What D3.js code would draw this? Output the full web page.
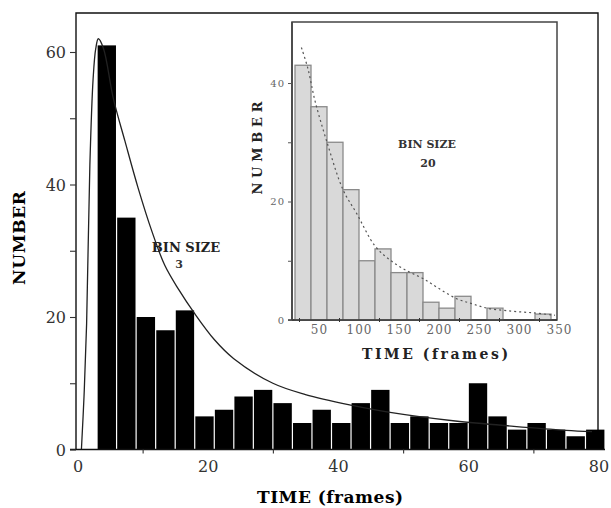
<!DOCTYPE html>
<html>
<head>
<meta charset="utf-8">
<script src="https://cdn.jsdelivr.net/npm/d3@7"></script>
<style>
  body { margin: 0; background: #fff; }
  text { font-family: "DejaVu Serif", serif; }
</style>
</head>
<body>
<div id="chart"></div>
<script>
// main histogram, bin size 3 (frames)
var mainBinStarts = [3, 6, 9, 12, 15, 18, 21, 24, 27, 30, 33, 36, 39, 42, 45, 48, 51, 54, 57, 60, 63, 66, 69, 72, 75, 78];
var mainCounts = [61, 35, 20, 18, 21, 5, 6, 8, 9, 7, 4, 6, 4, 7, 9, 4, 5, 4, 4, 10, 5, 3, 4, 3, 2, 3];
var mainBinSize = 3;

// fitted curve
var mainFitT = [0.6, 1.0, 1.4, 1.9, 2.4, 2.8, 3.2, 4.0, 5.5, 7.3, 9.3, 11.4, 13.4, 15.5, 18, 21, 24, 30, 35, 42, 48, 58, 67, 75, 79];
var mainFitN = [0, 8, 19, 43, 56, 60.5, 62, 60.5, 53, 46.5, 39.5, 33, 27.8, 24.2, 20.5, 16.6, 13.7, 10, 8.3, 6.7, 5.6, 4.3, 3.5, 2.9, 2.7];

var mainXTickLabels = [0, 20, 40, 60, 80];
var mainXMinor = [10, 30, 50, 70];
var mainYTickLabels = [0, 20, 40, 60];
var mainYMinor = [10, 30, 50];

// inset histogram, bin size 20
var insetBinStarts = [20, 40, 60, 80, 100, 120, 140, 160, 180, 200, 220, 240, 260, 280, 300, 320];
var insetCounts = [43, 36, 30, 22, 10, 12, 8, 8, 3, 2, 4, 0, 2, 0, 0, 1];
var insetBinSize = 20;

var insetFitT = [28, 36, 45, 60, 80, 97, 120, 140, 160, 180, 200, 222, 240, 260, 290, 318, 345];
var insetFitN = [46, 42.5, 37, 30, 22, 18, 12.5, 10, 8.3, 7, 5.3, 3.6, 2.8, 2, 1.5, 1.2, 0.8];

var insetXTickLabels = [50, 100, 150, 200, 250, 300, 350];
var insetXMinor = [25, 75, 125, 175, 225, 275, 325];
var insetYTickLabels = [0, 20, 40];
var insetYMinor = [10, 30];

var width = 611, height = 508;

var svg = d3.select('#chart')
	.append('svg')
	.attr('width', width)
	.attr('height', height);

// Scales for the main chart
var x = d3.scaleLinear().domain([0, 80]).range([77.5, 598.5]);
var y = d3.scaleLinear().domain([0, 66]).range([449.5, 12.25]);

// Frame (left, top, right)
svg.append('path')
	.attr('d', 'M76,449.5 V13 H598 V449.5')
	.attr('fill', 'none')
	.attr('stroke', '#111')
	.attr('stroke-width', 1.4);

// Bars
svg.append('g').selectAll('rect')
	.data(mainCounts)
	.enter()
	.append('rect')
	.attr('x', function(d, i){ return x(mainBinStarts[i]) + 0.6; })
	.attr('width', function(d, i){ return x(mainBinStarts[i] + mainBinSize) - x(mainBinStarts[i]) - 1.2; })
	.attr('y', function(d){ return y(d); })
	.attr('height', function(d){ return y(0) - y(d); })
	.attr('fill', '#000');

// Fitted curve
var mainLine = d3.line()
	.x(function(d, i){ return x(mainFitT[i]); })
	.y(function(d){ return y(d); })
	.curve(d3.curveCatmullRom.alpha(0.5));
svg.append('path')
	.attr('d', mainLine(mainFitN))
	.attr('fill', 'none')
	.attr('stroke', '#222')
	.attr('stroke-width', 1.3);

// x axis line
svg.append('line')
	.attr('x1', 70).attr('x2', 605)
	.attr('y1', y(0)).attr('y2', y(0))
	.attr('stroke', '#111')
	.attr('stroke-width', 1.4);

// y axis
var yAxis = d3.axisLeft(y)
	.tickValues(mainYTickLabels.concat(mainYMinor))
	.tickSize(6)
	.tickPadding(4)
	.tickFormat(function(d){ return mainYTickLabels.indexOf(d) >= 0 ? d : ''; });
var gy = svg.append('g')
	.attr('transform', 'translate(76,0)')
	.call(yAxis);
gy.select('.domain').remove();
gy.selectAll('line').attr('stroke', '#333').attr('stroke-width', 1.1);
gy.selectAll('text').attr('font-size', 16).attr('fill', '#333').attr('dy', '0.36em');

// x axis: minor ticks and labels
var gxm = svg.append('g')
	.attr('transform', 'translate(0,' + y(0) + ')')
	.call(d3.axisBottom(x).tickValues(mainXMinor).tickSize(4).tickFormat(''));
gxm.select('.domain').remove();
gxm.selectAll('line').attr('stroke', '#333').attr('stroke-width', 1.1);

var gx = svg.append('g')
	.attr('transform', 'translate(0,' + y(0) + ')')
	.call(d3.axisBottom(x).tickValues(mainXTickLabels).tickSize(0).tickPadding(11));
gx.select('.domain').remove();
gx.selectAll('text').attr('font-size', 16).attr('fill', '#333');

// Axis titles
svg.append('text')
	.text('TIME (frames)')
	.attr('x', 330)
	.attr('y', 503)
	.attr('text-anchor', 'middle')
	.attr('font-size', 17)
	.attr('font-weight', 'bold')
	.attr('textLength', 146)
	.attr('lengthAdjust', 'spacing');

svg.append('text')
	.text('NUMBER')
	.attr('transform', 'translate(25,238) rotate(-90)')
	.attr('text-anchor', 'middle')
	.attr('font-size', 17)
	.attr('font-weight', 'bold')
	.attr('textLength', 94)
	.attr('lengthAdjust', 'spacing');

// Bin size note
svg.append('text')
	.text('BIN SIZE')
	.attr('x', 186).attr('y', 252)
	.attr('text-anchor', 'middle')
	.attr('font-size', 13)
	.attr('font-weight', 'bold')
	.attr('fill', '#222');
svg.append('text')
	.text('3')
	.attr('x', 179).attr('y', 268)
	.attr('text-anchor', 'middle')
	.attr('font-size', 11)
	.attr('font-weight', 'bold')
	.attr('fill', '#333');

// ---------- Inset ----------
var xi = d3.scaleLinear().domain([16.25, 347.5]).range([292, 557]);
var yi = d3.scaleLinear().domain([0, 50.3]).range([320, 22]);

svg.append('rect')
	.attr('x', 292).attr('y', 22)
	.attr('width', 557 - 292).attr('height', 320 - 22)
	.attr('fill', '#fff')
	.attr('stroke', '#444')
	.attr('stroke-width', 1.5);

svg.append('g').selectAll('rect')
	.data(insetCounts)
	.enter()
	.append('rect')
	.attr('x', function(d, i){ return xi(insetBinStarts[i]); })
	.attr('width', function(d, i){ return xi(insetBinStarts[i] + insetBinSize) - xi(insetBinStarts[i]); })
	.attr('y', function(d){ return yi(d); })
	.attr('height', function(d){ return yi(0) - yi(d); })
	.attr('fill', '#d9d9d9')
	.attr('stroke', '#8a8a8a')
	.attr('stroke-width', 1.3);

var insetLine = d3.line()
	.x(function(d, i){ return xi(insetFitT[i]); })
	.y(function(d){ return yi(d); })
	.curve(d3.curveCatmullRom.alpha(0.5));
svg.append('path')
	.attr('d', insetLine(insetFitN))
	.attr('fill', 'none')
	.attr('stroke', '#555')
	.attr('stroke-width', 1.2)
	.attr('stroke-dasharray', '2,3');

// inset frame lines on top
svg.append('line')
	.attr('x1', 288).attr('x2', 557)
	.attr('y1', yi(0)).attr('y2', yi(0))
	.attr('stroke', '#333').attr('stroke-width', 1.5);
svg.append('line')
	.attr('x1', 292).attr('x2', 292)
	.attr('y1', 22).attr('y2', yi(0))
	.attr('stroke', '#444').attr('stroke-width', 1.6);

var giy = svg.append('g')
	.attr('transform', 'translate(292,0)')
	.call(d3.axisLeft(yi)
		.tickValues(insetYTickLabels.concat(insetYMinor))
		.tickSize(4)
		.tickPadding(3)
		.tickFormat(function(d){ return insetYTickLabels.indexOf(d) >= 0 ? d : ''; }));
giy.select('.domain').remove();
giy.selectAll('line').attr('stroke', '#555');
giy.selectAll('text').attr('font-size', 10).attr('fill', '#666').attr('letter-spacing', 1);

var gixm = svg.append('g')
	.attr('transform', 'translate(0,' + yi(0) + ')')
	.call(d3.axisBottom(xi).tickValues(insetXMinor).tickSizeInner(3).tickSizeOuter(0).tickFormat(''));
gixm.select('.domain').remove();
gixm.selectAll('line').attr('stroke', '#333').attr('y1', -2).attr('y2', 2);

var gix = svg.append('g')
	.attr('transform', 'translate(0,' + yi(0) + ')')
	.call(d3.axisBottom(xi).tickValues(insetXTickLabels).tickSize(0).tickPadding(5));
gix.select('.domain').remove();
gix.selectAll('text').attr('font-size', 12).attr('fill', '#666').attr('letter-spacing', 1);

svg.append('text')
	.text('TIME (frames)')
	.attr('x', 435).attr('y', 359)
	.attr('text-anchor', 'middle')
	.attr('font-size', 14)
	.attr('font-weight', 'bold')
	.attr('fill', '#222')
	.attr('textLength', 146)
	.attr('lengthAdjust', 'spacing');

svg.append('text')
	.text('NUMBER')
	.attr('transform', 'translate(262,148) rotate(-90)')
	.attr('text-anchor', 'middle')
	.attr('font-size', 13)
	.attr('font-weight', 'bold')
	.attr('fill', '#222')
	.attr('textLength', 93)
	.attr('lengthAdjust', 'spacing');

svg.append('text')
	.text('BIN SIZE')
	.attr('x', 427).attr('y', 148)
	.attr('text-anchor', 'middle')
	.attr('font-size', 11)
	.attr('font-weight', 'bold')
	.attr('fill', '#333');
svg.append('text')
	.text('20')
	.attr('x', 428).attr('y', 167)
	.attr('text-anchor', 'middle')
	.attr('font-size', 11)
	.attr('font-weight', 'bold')
	.attr('fill', '#333');
</script>
</body>
</html>
